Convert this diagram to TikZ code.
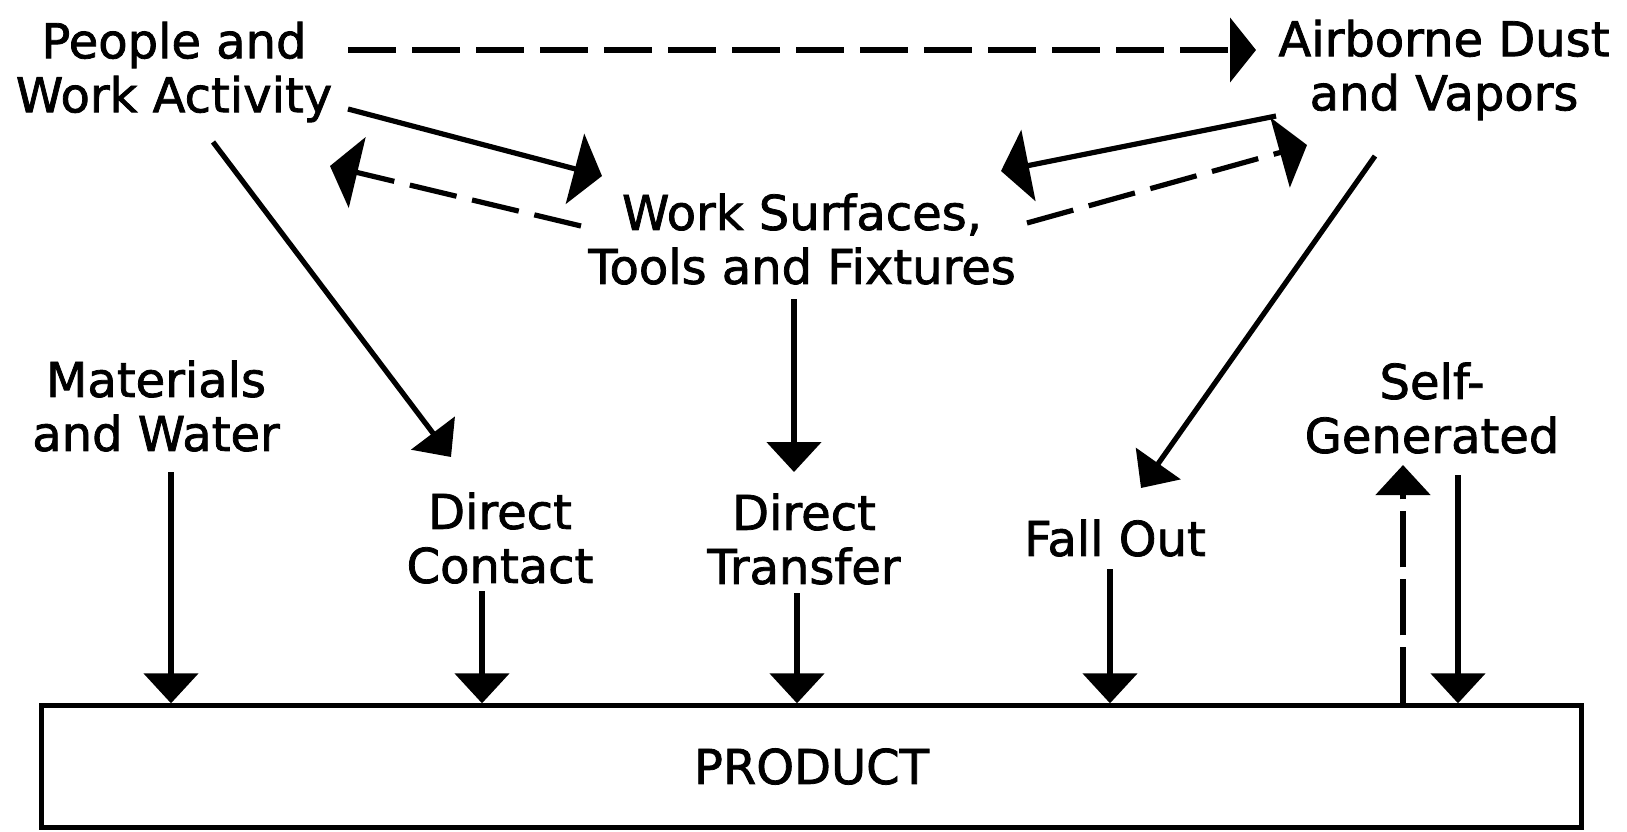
\documentclass[tikz,border=0pt]{standalone}
\usepackage{fontspec}
\setmainfont{DejaVu Sans}[FakeBold=1.6]
\usetikzlibrary{arrows.meta,calc}
\begin{document}
\begin{tikzpicture}[x=0.5pt,y=-0.5pt,
  lbl/.style={align=center,font=\fontsize{24}{27}\selectfont,inner sep=0pt},
  con/.style={line width=2.6pt,-{Triangle[width=27pt,length=15pt]}},
  bigtip/.style={line width=2.6pt,-{Triangle[width=36pt,length=14pt]}},
  toptip/.style={line width=2.6pt,-{Triangle[width=32pt,length=13pt]}},
  dsh/.style={dash pattern=on 24pt off 8pt},
  selfdsh/.style={dash pattern=on 28pt off 6pt}
]
\useasboundingbox (0,0) rectangle (1627,831);
\fill[white] (0,0) rectangle (1627,831);

% labels
\node[lbl] (people) at (174,72) {People and\\Work Activity};
\node[lbl] (air) at (1444,70) {Airborne Dust\\and Vapors};
\node[lbl] (work) at (802,239) {Work Surfaces,\\Tools and Fixtures};
\node[lbl] (mat) at (156,406) {Materials\\and Water};
\node[lbl] (dc) at (500,538) {Direct\\Contact};
\node[lbl] (dt) at (804,539) {Direct\\Transfer};
\node[lbl] (fo) at (1115,538) {Fall Out};
\node[lbl] (self) at (1432,408) {Self-\\Generated};
\node[draw,line width=2.2pt,minimum width=770pt,minimum height=61pt,inner sep=0pt,
      font=\fontsize{24}{27}\selectfont] (product) at (811.5,766.5) {PRODUCT};

% connector end points
\coordinate (pA) at (348,50);   \coordinate (aA) at (1256,50);
\coordinate (pB) at (348,109);  \coordinate (wB) at (602,176);
\coordinate (wC) at (581,226);  \coordinate (pC) at (330,166);
\coordinate (aD) at (1276,116); \coordinate (wD) at (1001,171);
\coordinate (wE) at (1027,223); \coordinate (aE) at (1307,145);
\coordinate (wF) at (794,299);  \coordinate (dtF) at (794,472);
\coordinate (pG) at (213,142);  \coordinate (dcG) at (451,457);
\coordinate (aH) at (1375,156); \coordinate (foH) at (1141,488);
\coordinate (matS) at (171,472);
\coordinate (dcS) at (482,591);
\coordinate (dtS) at (797,593);
\coordinate (foS) at (1110,569);
\coordinate (selfU) at (1403,465);
\coordinate (selfS) at (1458,475);

% connectors
\draw[toptip,dsh] (pA) -- (aA);
\draw[bigtip] (pB) -- (wB);
\draw[bigtip,dsh] (wC) -- (pC);
\draw[bigtip] (aD) -- (wD);
\draw[bigtip,dsh] (wE) -- (aE);
\draw[con] (wF) -- (dtF);
\draw[con] (pG) -- (dcG);
\draw[con] (aH) -- (foH);
\draw[con] (matS) -- (matS |- product.north);
\draw[con] (dcS) -- (dcS |- product.north);
\draw[con] (dtS) -- (dtS |- product.north);
\draw[con] (foS) -- (foS |- product.north);
\draw[con,selfdsh] (selfU |- product.north) -- (selfU);
\draw[con] (selfS) -- (selfS |- product.north);
\end{tikzpicture}
\end{document}
